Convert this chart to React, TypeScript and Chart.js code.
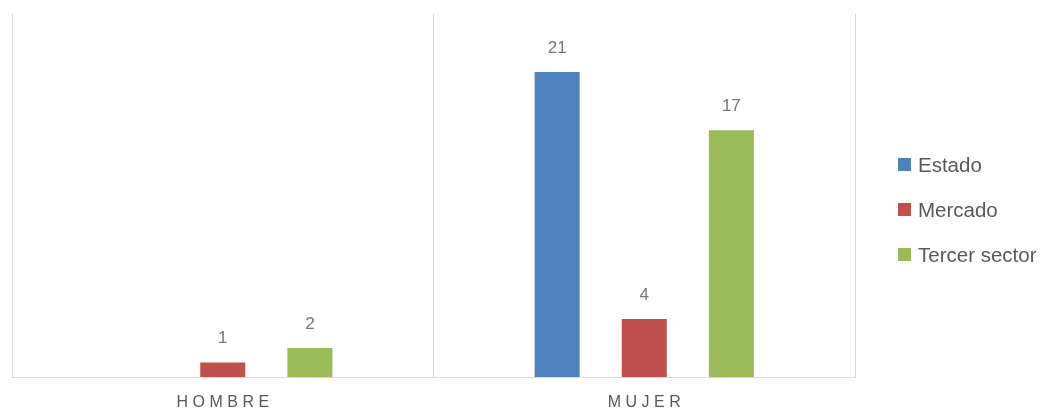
import React, { useEffect, useRef } from "react";
import { Chart, registerables } from "chart.js";

Chart.register(...registerables);

// ---- data ----
const categories: string[] = ["HOMBRE", "MUJER"];
const seriesNames: string[] = ["Estado", "Mercado", "Tercer sector"];
const estado: (number | null)[] = [null, 21];
const mercado: (number | null)[] = [1, 4];
const tercerSector: (number | null)[] = [2, 17];
const seriesColors: string[] = ["#4F81BD", "#C0504D", "#9BBB59"];
const yMin = 0;
const yMax = 25;

const FONT = '"Liberation Sans", Arial, sans-serif';
const TEXT_COLOR = "#595959";
const LABEL_COLOR = "#767676";
const GRID_COLOR = "#D9D9D9";
const LETTER_SPACING = 4.5;

const axisLetterSpacing = {
  id: "axisLetterSpacing",
  beforeDraw(chart: any) {
    (chart.ctx as any).letterSpacing = LETTER_SPACING + "px";
  },
  beforeDatasetsDraw(chart: any) {
    (chart.ctx as any).letterSpacing = "0px";
  },
};

const valueLabels = {
  id: "valueLabels",
  afterDatasetsDraw(chart: any) {
    const ctx = chart.ctx as CanvasRenderingContext2D;
    ctx.save();
    (ctx as any).letterSpacing = "0px";
    ctx.font = "17px " + FONT;
    ctx.fillStyle = LABEL_COLOR;
    ctx.textAlign = "center";
    ctx.textBaseline = "middle";
    chart.data.datasets.forEach((ds: any, di: number) => {
      const meta = chart.getDatasetMeta(di);
      meta.data.forEach((el: any, i: number) => {
        const v = ds.data[i];
        if (v == null) return;
        ctx.fillText(String(v), el.x, el.y - 24);
      });
    });
    ctx.restore();
  },
};

const legendTops = [164.5, 209.5, 254.5];

export default function App() {
  const canvasRef = useRef<HTMLCanvasElement | null>(null);

  useEffect(() => {
    if (!canvasRef.current) return;
    const seriesData = [estado, mercado, tercerSector];
    const chart = new Chart(canvasRef.current, {
      type: "bar",
      data: {
        labels: categories,
        datasets: seriesNames.map((name, i) => ({
          label: name,
          data: seriesData[i],
          backgroundColor: seriesColors[i],
          borderWidth: 0,
          categoryPercentage: 0.62,
          barPercentage: 0.517,
        })),
      },
      options: {
        responsive: false,
        animation: false,
        layout: { padding: { left: 12, right: 191, top: 14, bottom: 0 } },
        plugins: {
          legend: { display: false },
          tooltip: { enabled: false },
        },
        scales: {
          x: {
            grid: {
              display: true,
              color: GRID_COLOR,
              lineWidth: 1,
              drawTicks: false,
              offset: true,
            },
            border: { display: true, color: GRID_COLOR, width: 1 },
            ticks: {
              color: TEXT_COLOR,
              font: { family: FONT, size: 16 },
              padding: 16.4,
              labelOffset: LETTER_SPACING / 2,
              maxRotation: 0,
            },
          },
          y: {
            display: false,
            min: yMin,
            max: yMax,
          },
        },
      },
      plugins: [axisLetterSpacing, valueLabels],
    });
    return () => chart.destroy();
  }, []);

  return (
    <div
      style={{
        position: "absolute",
        left: 0,
        top: 0,
        width: 1046,
        height: 412,
        overflow: "hidden",
        background: "#FFFFFF",
      }}
    >
      <canvas
        ref={canvasRef}
        width={1046}
        height={429}
        style={{ display: "block", width: 1046, height: 429 }}
      />
      {seriesNames.map((name, i) => (
        <div
          key={name}
          style={{
            position: "absolute",
            left: 898,
            top: legendTops[i] - 14,
            height: 28,
            display: "flex",
            alignItems: "center",
            fontFamily: FONT,
            fontSize: 20.5,
            color: TEXT_COLOR,
            whiteSpace: "nowrap",
          }}
        >
          <span
            style={{
              display: "inline-block",
              width: 13,
              height: 13,
              background: seriesColors[i],
              marginRight: 7,
            }}
          />
          <span>{name}</span>
        </div>
      ))}
    </div>
  );
}
